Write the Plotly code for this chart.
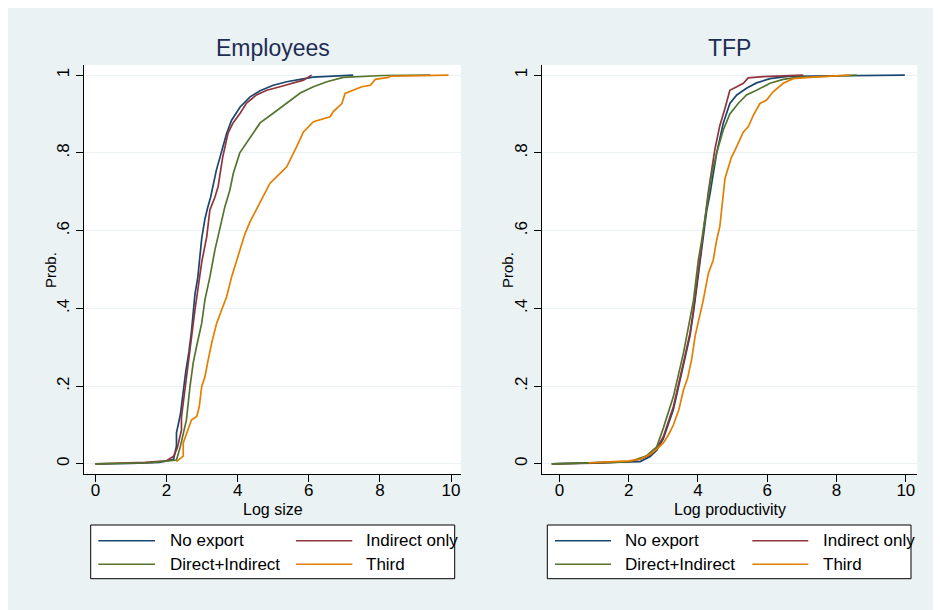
import plotly.graph_objects as go

W, H = 941, 610
OFF = 8  # page offset of the figure inside the browser window

series_names = ["No export", "Indirect only", "Direct+Indirect", "Third"]
series_colors = ["#1A476F", "#90353B", "#55752F", "#E37E00"]

# ---- Employees panel (Log size, cumulative probability) ----
emp_noexp_x = [0.0, 1.0, 1.8, 2.2, 2.28, 2.28, 2.39, 2.47, 2.54, 2.63, 2.70, 2.80, 2.88, 2.99, 3.08, 3.16, 3.24, 3.40, 3.55, 3.69, 3.83, 4.07, 4.35, 4.63, 5.00, 5.38, 5.76, 6.12, 7.25]
emp_noexp_y = [0.0, 0.001, 0.004, 0.012, 0.046, 0.080, 0.127, 0.186, 0.237, 0.288, 0.339, 0.437, 0.48, 0.58, 0.63, 0.66, 0.686, 0.755, 0.807, 0.85, 0.884, 0.918, 0.944, 0.96, 0.974, 0.983, 0.989, 0.995, 1.0]

emp_ind_x = [0.0, 1.4, 2.0, 2.2, 2.3, 2.42, 2.42, 2.58, 2.74, 2.80, 2.99, 3.13, 3.22, 3.36, 3.45, 3.58, 3.73, 3.87, 4.07, 4.25, 4.53, 4.82, 5.19, 5.57, 5.85, 6.08]
emp_ind_y = [0.0, 0.004, 0.008, 0.02, 0.04, 0.087, 0.12, 0.24, 0.345, 0.396, 0.519, 0.584, 0.653, 0.686, 0.713, 0.789, 0.851, 0.877, 0.902, 0.928, 0.949, 0.961, 0.970, 0.979, 0.987, 1.0]

emp_dir_x = [0.0, 1.5, 2.0, 2.28, 2.39, 2.56, 2.66, 2.75, 2.84, 2.99, 3.08, 3.22, 3.36, 3.50, 3.64, 3.78, 3.88, 4.06, 4.30, 4.63, 5.00, 5.38, 5.76, 6.13, 6.51, 6.97, 8.09, 9.42]
emp_dir_y = [0.0, 0.003, 0.007, 0.01, 0.045, 0.113, 0.199, 0.26, 0.30, 0.362, 0.422, 0.481, 0.55, 0.61, 0.661, 0.704, 0.748, 0.80, 0.833, 0.877, 0.902, 0.928, 0.954, 0.970, 0.983, 0.994, 0.999, 1.0]

emp_third_x = [2.28, 2.47, 2.47, 2.61, 2.70, 2.85, 2.92, 2.99, 3.08, 3.17, 3.27, 3.41, 3.55, 3.69, 3.83, 3.97, 4.06, 4.21, 4.35, 4.54, 4.68, 4.82, 4.91, 5.10, 5.38, 5.66, 5.85, 6.13, 6.60, 6.69, 6.93, 7.02, 7.26, 7.49, 7.73, 7.87, 8.24, 8.29, 9.93]
emp_third_y = [0.006, 0.02, 0.054, 0.087, 0.113, 0.122, 0.147, 0.199, 0.224, 0.267, 0.311, 0.362, 0.396, 0.43, 0.481, 0.52, 0.55, 0.593, 0.623, 0.657, 0.683, 0.704, 0.722, 0.739, 0.764, 0.816, 0.854, 0.880, 0.893, 0.906, 0.927, 0.953, 0.961, 0.970, 0.974, 0.989, 0.994, 0.997, 1.0]

# ---- TFP panel (Log productivity, cumulative probability) ----
tfp_noexp_x = [-0.22, 1.0, 2.0, 2.33, 2.62, 2.81, 3.0, 3.29, 3.58, 3.77, 3.87, 4.06, 4.25, 4.35, 4.54, 4.73, 4.92, 5.12, 5.40, 5.69, 6.08, 6.65, 9.97]
tfp_noexp_y = [0.0, 0.002, 0.004, 0.006, 0.019, 0.035, 0.065, 0.14, 0.254, 0.33, 0.39, 0.52, 0.65, 0.696, 0.80, 0.876, 0.927, 0.949, 0.966, 0.98, 0.991, 0.997, 1.0]

tfp_ind_x = [-0.22, 1.0, 2.0, 2.33, 2.62, 2.81, 3.0, 3.29, 3.58, 3.77, 3.87, 4.06, 4.25, 4.30, 4.49, 4.63, 4.78, 4.92, 5.12, 5.31, 5.45, 5.88, 7.04]
tfp_ind_y = [0.0, 0.002, 0.006, 0.012, 0.023, 0.04, 0.07, 0.147, 0.26, 0.336, 0.396, 0.533, 0.679, 0.70, 0.81, 0.87, 0.915, 0.961, 0.97, 0.979, 0.993, 0.996, 1.0]

tfp_dir_x = [-0.22, 1.0, 2.0, 2.5, 2.81, 3.0, 3.29, 3.58, 3.77, 3.87, 4.01, 4.11, 4.40, 4.54, 4.73, 4.92, 5.16, 5.40, 5.69, 6.08, 6.46, 6.85, 7.81, 8.58]
tfp_dir_y = [0.0, 0.002, 0.005, 0.02, 0.044, 0.092, 0.173, 0.285, 0.37, 0.42, 0.524, 0.576, 0.747, 0.80, 0.859, 0.90, 0.927, 0.949, 0.961, 0.979, 0.989, 0.994, 0.997, 1.0]

tfp_third_x = [0.84, 1.5, 2.0, 2.33, 2.62, 2.81, 3.0, 3.15, 3.29, 3.45, 3.58, 3.70, 3.82, 3.92, 4.0, 4.15, 4.30, 4.44, 4.54, 4.63, 4.78, 4.88, 4.97, 5.07, 5.21, 5.31, 5.45, 5.60, 5.79, 5.98, 6.17, 6.46, 6.75, 7.32, 8.38]
tfp_third_y = [0.003, 0.005, 0.008, 0.012, 0.025, 0.038, 0.054, 0.075, 0.10, 0.14, 0.19, 0.22, 0.27, 0.33, 0.36, 0.42, 0.49, 0.524, 0.576, 0.61, 0.734, 0.764, 0.79, 0.807, 0.833, 0.854, 0.867, 0.897, 0.927, 0.936, 0.957, 0.979, 0.991, 0.995, 1.0]

panel_titles = ["Employees", "TFP"]
x_titles = ["Log size", "Log productivity"]
y_title = "Prob."
x_tickvals = [0, 2, 4, 6, 8, 10]
x_ticktext = ["0", "2", "4", "6", "8", "10"]
y_tickvals = [0, 0.2, 0.4, 0.6, 0.8, 1.0]
y_ticktext = ["0", ".2", ".4", ".6", ".8", "1"]

emp_series = [(emp_noexp_x, emp_noexp_y), (emp_ind_x, emp_ind_y), (emp_dir_x, emp_dir_y), (emp_third_x, emp_third_y)]
tfp_series = [(tfp_noexp_x, tfp_noexp_y), (tfp_ind_x, tfp_ind_y), (tfp_dir_x, tfp_dir_y), (tfp_third_x, tfp_third_y)]

BG = "#EAF2F3"
FONT = "Liberation Sans, Arial, sans-serif"

fig = go.Figure()
for (xs, ys), name, col in zip(emp_series, series_names, series_colors):
    fig.add_trace(go.Scatter(x=xs, y=ys, mode="lines", name=name, line=dict(color=col, width=1.7),
                             xaxis="x", yaxis="y", showlegend=False))
for (xs, ys), name, col in zip(tfp_series, series_names, series_colors):
    fig.add_trace(go.Scatter(x=xs, y=ys, mode="lines", name=name, line=dict(color=col, width=1.7),
                             xaxis="x2", yaxis="y2", showlegend=False))

def px(x):
    return (x - OFF) / W

def py(y):
    return 1 - (y - OFF) / H

panels = [
    dict(l=84, r=461, xr=[-0.32, 10.28]),
    dict(l=541.7, r=917.3, xr=[-0.51, 10.33]),
]
top, bot = 65, 474

axis_common = dict(showline=True, linecolor="black", linewidth=1, ticks="outside", ticklen=7,
                   tickcolor="black", tickwidth=1, zeroline=False,
                   tickfont=dict(family=FONT, size=17, color="black"))

fig.update_layout(
    width=W, height=H, margin=dict(l=0, r=0, t=0, b=0),
    paper_bgcolor=BG, plot_bgcolor="white", showlegend=False,
    font=dict(family=FONT, color="black"),
    xaxis=dict(domain=[px(panels[0]["l"]), px(panels[0]["r"])], range=panels[0]["xr"],
               tickvals=x_tickvals, ticktext=x_ticktext, ticklabelstandoff=-6,
               showgrid=False, anchor="y", **axis_common),
    yaxis=dict(domain=[py(bot), py(top)], range=[-0.026, 1.026], tickvals=y_tickvals, ticktext=y_ticktext,
               tickangle=-90, showgrid=True, gridcolor=BG, gridwidth=1.2, anchor="x", **axis_common),
    xaxis2=dict(domain=[px(panels[1]["l"]), px(panels[1]["r"])], range=panels[1]["xr"],
                tickvals=x_tickvals, ticktext=x_ticktext, ticklabelstandoff=-6,
                showgrid=False, anchor="y2", **axis_common),
    yaxis2=dict(domain=[py(bot), py(top)], range=[-0.026, 1.026], tickvals=y_tickvals, ticktext=y_ticktext,
                tickangle=-90, showgrid=True, gridcolor=BG, gridwidth=1.2, anchor="x2", **axis_common),
)

shapes = []
annotations = []

ylab_x = [50, 507]
leg_geo = [
    dict(x0=90.7, x1=454.7, l1=(98.3, 155), l2=(296, 352.3), t1=167.7, t2=364.3),
    dict(x0=547.3, x1=911, l1=(555, 611), l2=(752.3, 808.3), t1=623.3, t2=821),
]
row_y = [540.7, 564.3]
for i, p in enumerate(panels):
    cx = (p["l"] + p["r"]) / 2
    annotations.append(dict(text=panel_titles[i], x=px(cx), y=py(48), xref="paper", yref="paper",
                            showarrow=False, xanchor="center", yanchor="middle",
                            font=dict(family=FONT, size=23, color="#1E2D53")))
    annotations.append(dict(text=x_titles[i], x=px(cx), y=py(509), xref="paper", yref="paper",
                            showarrow=False, xanchor="center", yanchor="middle",
                            font=dict(family=FONT, size=16, color="black")))
    annotations.append(dict(text=y_title, x=px(ylab_x[i]), y=py(270), xref="paper", yref="paper",
                            showarrow=False, xanchor="center", yanchor="middle", textangle=-90,
                            font=dict(family=FONT, size=15, color="black")))
    g = leg_geo[i]
    shapes.append(dict(type="rect", xref="paper", yref="paper", x0=px(g["x0"]), x1=px(g["x1"]),
                       y0=py(578.7), y1=py(525), fillcolor="white", line=dict(color="black", width=1)))
    slots = [(g["l1"], g["t1"], row_y[0]), (g["l2"], g["t2"], row_y[0]),
             (g["l1"], g["t1"], row_y[1]), (g["l2"], g["t2"], row_y[1])]
    for k, ((lx0, lx1), tx, ry) in enumerate(slots):
        shapes.append(dict(type="line", xref="paper", yref="paper", x0=px(lx0), x1=px(lx1),
                           y0=py(ry), y1=py(ry), line=dict(color=series_colors[k], width=1.4)))
        annotations.append(dict(text=series_names[k], x=px(tx), y=py(ry), xref="paper", yref="paper",
                                showarrow=False, xanchor="left", yanchor="middle",
                                font=dict(family=FONT, size=17, color="black")))

fig.update_layout(shapes=shapes, annotations=annotations)
fig.write_html("out.html")
